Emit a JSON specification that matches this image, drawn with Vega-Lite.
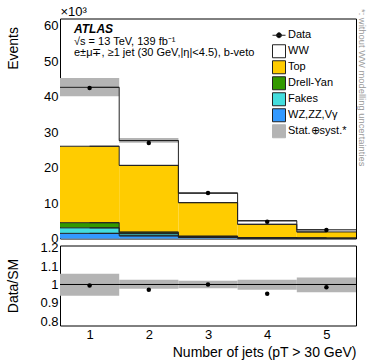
{
  "$schema": "https://vega.github.io/schema/vega-lite/v6.json",
  "padding": {"left": 5, "top": 5.5, "right": 5, "bottom": 5},
  "config": {
    "font": "Liberation Sans",
    "view": {"stroke": null},
    "axis": {"domainColor": "black", "domainWidth": 1, "tickColor": "black", "tickWidth": 1, "labelColor": "black", "titleColor": "black", "labelFont": "Liberation Sans", "titleFont": "Liberation Sans", "titleFontWeight": "normal", "grid": false, "zindex": 1, "labelFontSize": 13, "titleFontSize": 14, "tickSize": 0, "labelFlush": false, "labelOverlap": false}
  },
  "datasets": {
    "mc": [
      {"njet": 1, "lo": 0.5, "hi": 1.5, "process": "WZ,ZZ,Vγ", "ord": 1, "events": 1.45},
      {"njet": 1, "lo": 0.5, "hi": 1.5, "process": "Fakes", "ord": 2, "events": 1.55},
      {"njet": 1, "lo": 0.5, "hi": 1.5, "process": "Drell-Yan", "ord": 3, "events": 1.45},
      {"njet": 1, "lo": 0.5, "hi": 1.5, "process": "Top", "ord": 4, "events": 21.55},
      {"njet": 1, "lo": 0.5, "hi": 1.5, "process": "WW", "ord": 5, "events": 16.6},
      {"njet": 2, "lo": 1.5, "hi": 2.5, "process": "WZ,ZZ,Vγ", "ord": 1, "events": 0.75},
      {"njet": 2, "lo": 1.5, "hi": 2.5, "process": "Fakes", "ord": 2, "events": 0.6},
      {"njet": 2, "lo": 1.5, "hi": 2.5, "process": "Drell-Yan", "ord": 3, "events": 0.45},
      {"njet": 2, "lo": 1.5, "hi": 2.5, "process": "Top", "ord": 4, "events": 18.8},
      {"njet": 2, "lo": 1.5, "hi": 2.5, "process": "WW", "ord": 5, "events": 7.0},
      {"njet": 3, "lo": 2.5, "hi": 3.5, "process": "WZ,ZZ,Vγ", "ord": 1, "events": 0.3},
      {"njet": 3, "lo": 2.5, "hi": 3.5, "process": "Fakes", "ord": 2, "events": 0.2},
      {"njet": 3, "lo": 2.5, "hi": 3.5, "process": "Drell-Yan", "ord": 3, "events": 0.15},
      {"njet": 3, "lo": 2.5, "hi": 3.5, "process": "Top", "ord": 4, "events": 9.45},
      {"njet": 3, "lo": 2.5, "hi": 3.5, "process": "WW", "ord": 5, "events": 2.7},
      {"njet": 4, "lo": 3.5, "hi": 4.5, "process": "WZ,ZZ,Vγ", "ord": 1, "events": 0.12},
      {"njet": 4, "lo": 3.5, "hi": 4.5, "process": "Fakes", "ord": 2, "events": 0.06},
      {"njet": 4, "lo": 3.5, "hi": 4.5, "process": "Drell-Yan", "ord": 3, "events": 0.05},
      {"njet": 4, "lo": 3.5, "hi": 4.5, "process": "Top", "ord": 4, "events": 3.77},
      {"njet": 4, "lo": 3.5, "hi": 4.5, "process": "WW", "ord": 5, "events": 1.0},
      {"njet": 5, "lo": 4.5, "hi": 5.5, "process": "WZ,ZZ,Vγ", "ord": 1, "events": 0.07},
      {"njet": 5, "lo": 4.5, "hi": 5.5, "process": "Fakes", "ord": 2, "events": 0.03},
      {"njet": 5, "lo": 4.5, "hi": 5.5, "process": "Drell-Yan", "ord": 3, "events": 0.02},
      {"njet": 5, "lo": 4.5, "hi": 5.5, "process": "Top", "ord": 4, "events": 1.73},
      {"njet": 5, "lo": 4.5, "hi": 5.5, "process": "WW", "ord": 5, "events": 0.6}
    ],
    "data": [
      {"njet": 1, "events": 42.4, "ratio": 0.995},
      {"njet": 2, "events": 26.9, "ratio": 0.971},
      {"njet": 3, "events": 12.8, "ratio": 1.0},
      {"njet": 4, "events": 4.75, "ratio": 0.95},
      {"njet": 5, "events": 2.41, "ratio": 0.985}
    ],
    "band": [
      {"njet": 1, "lo": 0.5, "hi": 1.5, "blo": 40.1, "bhi": 45.2, "rlo": 0.939, "rhi": 1.058},
      {"njet": 2, "lo": 1.5, "hi": 2.5, "blo": 27.0, "bhi": 28.3, "rlo": 0.977, "rhi": 1.025},
      {"njet": 3, "lo": 2.5, "hi": 3.5, "blo": 12.55, "bhi": 13.05, "rlo": 0.98, "rhi": 1.02},
      {"njet": 4, "lo": 3.5, "hi": 4.5, "blo": 4.87, "bhi": 5.13, "rlo": 0.972, "rhi": 1.025},
      {"njet": 5, "lo": 4.5, "hi": 5.5, "blo": 2.35, "bhi": 2.55, "rlo": 0.958, "rhi": 1.038}
    ]
  },
  "spacing": -5,
  "vconcat": [
    {
      "width": 296,
      "height": 220,
      "layer": [
        {
          "data": {"name": "mc"},
          "transform": [{"stack": "events", "groupby": ["njet"], "sort": [{"field": "ord", "order": "ascending"}], "as": ["y0", "y1"]}],
          "mark": {"type": "bar", "strokeWidth": 0},
          "encoding": {
            "x": {"field": "lo", "type": "quantitative", "scale": {"domain": [0.5, 5.5], "nice": false, "zero": false},
              "axis": {"orient": "bottom", "domain": false, "ticks": false, "labels": false,
                "title": "ATLAS", "titleFontStyle": "italic", "titleFontWeight": "bold", "titleFontSize": 12,
                "titleX": 13.5, "titleY": -206.5, "titleAlign": "left", "titleBaseline": "alphabetic"}},
            "x2": {"field": "hi"},
            "y": {"field": "y0", "type": "quantitative", "scale": {"domain": [0, 62], "nice": false},
              "axis": {"orient": "left", "domain": false, "ticks": false, "labels": false,
                "title": ["√s = 13 TeV, 139 fb⁻¹", "e±μ∓, ≥1 jet (30 GeV,|η|<4.5), b-veto"],
                "titleAngle": 0, "titleFontSize": 11, "titleLineHeight": 11.5,
                "titleX": 13.5, "titleY": 25.5, "titleAlign": "left", "titleBaseline": "alphabetic"}},
            "y2": {"field": "y1"},
            "color": {
              "field": "process",
              "type": "nominal",
              "scale": {
                "domain": ["Data", "WW", "Top", "Drell-Yan", "Fakes", "WZ,ZZ,Vγ", "Stat.⊕syst.*"],
                "range": ["#000000", "#ffffff", "#ffcc00", "#339900", "#44dddd", "#3399ff", "#b4b4b4"]
              },
              "legend": {
                "orient": "none",
                "legendX": 212,
                "legendY": 9,
                "title": null,
                "padding": 0,
                "symbolType": "square",
                "symbolSize": 169,
                "symbolStrokeWidth": 1,
                "symbolOpacity": 1,
                "labelFontSize": 11,
                "labelFont": "Liberation Sans",
                "labelColor": "black",
                "labelOffset": 2,
                "rowPadding": 0,
                "clipHeight": 15.5,
                "encode": {
                  "symbols": {
                    "update": {
                      "shape": {"signal": "datum.value === 'Data' ? 'M-1,0H1M-0.38,0A0.38,0.38,0,1,0,0.38,0A0.38,0.38,0,1,0,-0.38,0Z' : 'square'"},
                      "stroke": {"signal": "datum.value === 'Stat.⊕syst.*' ? '#b4b4b4' : '#222222'"}
                    }
                  }
                }
              }
            }
          }
        },
        {
          "data": {"name": "band"},
          "mark": {"type": "rect"},
          "encoding": {
            "x": {
              "field": "lo", "type": "quantitative", "scale": {"domain": [0.5, 5.5], "nice": false, "zero": false},
              "axis": {"orient": "bottom", "values": [1, 2, 3, 4, 5], "labels": false, "title": null,
                "encode": {"ticks": {"update": {"y2": {"value": -6}}}}}
            },
            "x2": {"field": "hi"},
            "y": {
              "field": "blo", "type": "quantitative", "scale": {"domain": [0, 62], "nice": false},
              "axis": {"orient": "left", "values": [0,2,4,6,8,10,12,14,16,18,20,22,24,26,28,30,32,34,36,38,40,42,44,46,48,50,52,54,56,58,60],
                "labelExpr": "datum.value % 10 === 0 ? datum.label : ''", "labelPadding": 2,
                "title": "Events", "titleAlign": "right", "titleBaseline": "middle", "titleX": -47, "titleY": 8,
                "encode": {"ticks": {"update": {"x2": {"signal": "datum.value % 10 === 0 ? 8 : 4"}}}}}
            },
            "y2": {"field": "bhi"},
            "color": {"datum": "Stat.⊕syst.*"}
          }
        },
        {
          "data": {"name": "mc"},
          "transform": [{"stack": "events", "groupby": ["njet"], "sort": [{"field": "ord", "order": "ascending"}], "as": ["y0", "y1"]}],
          "layer": [
            {
              "mark": {"type": "rule", "color": "#222222", "strokeWidth": 1},
              "encoding": {
                "x": {"field": "lo", "type": "quantitative", "axis": null},
                "x2": {"field": "hi"},
                "y": {"field": "y1", "type": "quantitative", "axis": null}
              }
            },
            {
              "mark": {"type": "line", "interpolate": "step", "color": "#222222", "strokeWidth": 1},
              "encoding": {
                "x": {"field": "njet", "type": "quantitative", "axis": null},
                "y": {"field": "y1", "type": "quantitative", "axis": null},
                "detail": {"field": "process"}
              }
            }
          ]
        },
        {
          "data": {"name": "data"},
          "mark": {"type": "point", "filled": true, "size": 20, "opacity": 1},
          "encoding": {
            "x": {
              "field": "njet", "type": "quantitative",
              "axis": {"orient": "top", "values": [1, 2, 3, 4, 5], "labels": false,
                "title": "×10³", "titleX": 0, "titleY": -3, "titleAlign": "left", "titleBaseline": "alphabetic", "titleFontSize": 13,
                "encode": {"ticks": {"update": {"y2": {"value": 6}}}}}
            },
            "y": {
              "field": "events", "type": "quantitative",
              "axis": {"orient": "right", "values": [0,2,4,6,8,10,12,14,16,18,20,22,24,26,28,30,32,34,36,38,40,42,44,46,48,50,52,54,56,58,60],
                "labels": false,
                "title": "*: without WW modelling uncertainties", "titleAngle": 90, "titleAlign": "left", "titleBaseline": "middle",
                "titleX": 5, "titleY": -10, "titleFontSize": 9.4, "titleColor": "#999999",
                "encode": {"ticks": {"update": {"x2": {"signal": "datum.value % 10 === 0 ? -8 : -4"}}}}}
            },
            "color": {"datum": "Data"}
          }
        }
      ],
      "resolve": {"axis": {"x": "independent", "y": "independent"}}
    },
    {
      "width": 296,
      "height": 80,
      "layer": [
        {
          "data": {"name": "band"},
          "mark": {"type": "rect", "color": "#b4b4b4"},
          "encoding": {
            "x": {
              "field": "lo", "type": "quantitative", "scale": {"domain": [0.5, 5.5], "nice": false, "zero": false},
              "axis": {"orient": "bottom", "values": [1, 2, 3, 4, 5], "labelPadding": 3, "format": "d",
                "title": "Number of jets (pT > 30 GeV)", "titleAnchor": "end", "titleAlign": "right", "titlePadding": 4,
                "encode": {"ticks": {"update": {"y2": {"value": -6}}}}}
            },
            "x2": {"field": "hi"},
            "y": {
              "field": "rlo", "type": "quantitative", "scale": {"domain": [0.778, 1.211], "nice": false, "zero": false},
              "axis": {"orient": "left", "values": [0.78,0.8,0.82,0.84,0.86,0.88,0.9,0.92,0.94,0.96,0.98,1,1.02,1.04,1.06,1.08,1.1,1.12,1.14,1.16,1.18,1.2],
                "labelExpr": "round(datum.value*100) % 10 === 0 ? format(datum.value, '~g') : ''", "labelPadding": 2,
                "title": "Data/SM", "titleBaseline": "middle", "titleX": -47,
                "encode": {"ticks": {"update": {"x2": {"signal": "round(datum.value*100) % 10 === 0 ? 8 : 4"}}}}}
            },
            "y2": {"field": "rhi"}
          }
        },
        {
          "data": {"values": [{}]},
          "mark": {"type": "rule", "color": "black", "strokeWidth": 1},
          "encoding": {"y": {"datum": 1, "type": "quantitative", "axis": null}}
        },
        {
          "data": {"name": "data"},
          "mark": {"type": "point", "filled": true, "size": 20, "opacity": 1, "color": "black"},
          "encoding": {
            "x": {
              "field": "njet", "type": "quantitative",
              "axis": {"orient": "top", "values": [1, 2, 3, 4, 5], "labels": false, "title": null,
                "encode": {"ticks": {"update": {"y2": {"value": 6}}}}}
            },
            "y": {
              "field": "ratio", "type": "quantitative",
              "axis": {"orient": "right", "values": [0.78,0.8,0.82,0.84,0.86,0.88,0.9,0.92,0.94,0.96,0.98,1,1.02,1.04,1.06,1.08,1.1,1.12,1.14,1.16,1.18,1.2],
                "labels": false, "title": null,
                "encode": {"ticks": {"update": {"x2": {"signal": "round(datum.value*100) % 10 === 0 ? -8 : -4"}}}}}
            }
          }
        }
      ],
      "resolve": {"axis": {"x": "independent", "y": "independent"}}
    }
  ]
}
